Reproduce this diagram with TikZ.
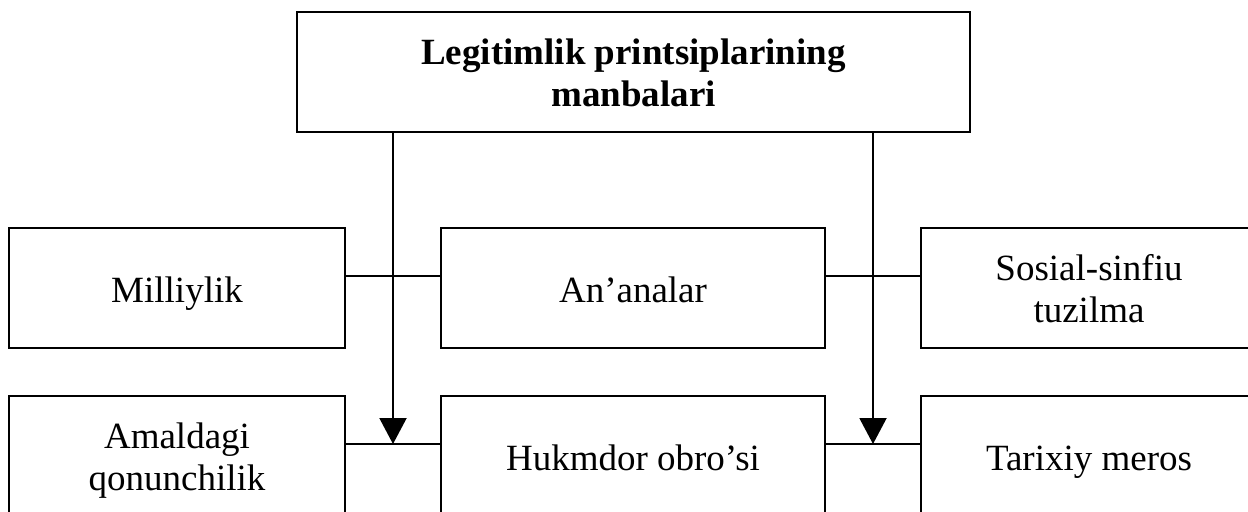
\documentclass[tikz,border=0pt]{standalone}
\usepackage{fontspec}
\setmainfont{Liberation Serif}
\usepackage{tikz}
\usetikzlibrary{calc, arrows.meta, positioning}

\begin{document}
\begin{tikzpicture}[x=0.5pt, y=-0.5pt,
    srcbox/.style={draw, line width=1.2pt, rectangle,
                   minimum width=168pt, minimum height=60pt, inner sep=2pt,
                   font=\fontsize{18.5}{21}\selectfont},
    oneline/.style={text height=17pt, text depth=3pt},
    twoline/.style={align=center, text height=37pt, text depth=3pt},
    link/.style={line width=0.8pt},
    down/.style={line width=1pt, -{Triangle[length=13pt, width=13.5pt]}}]
      %► Frame of the picture (pixel units)
      \useasboundingbox (0,0) rectangle (1248,511);
      \clip (0,0) rectangle (1248,511);

      %► Heading box
      \node[srcbox, twoline, minimum width=336.5pt, font=\fontsize{18.5}{21}\selectfont\bfseries]
            (head) at (633.5,72) {Legitimlik printsiplarining\\manbalari};

      %► First row
      \node[srcbox, oneline]                      (mill) at (177,288)  {Milliylik};
      \node[srcbox, oneline, minimum width=192pt] (anan) at (633,288)  {An’analar};
      \node[srcbox, twoline]                      (sots) at (1089,288) {Sosial-sinfiu\\tuzilma};

      %► Second row
      \node[srcbox, twoline]                      (amal) at (177,456)  {Amaldagi\\qonunchilik};
      \node[srcbox, oneline, minimum width=192pt] (hukm) at (633,456)  {Hukmdor obro’si};
      \node[srcbox, oneline]                      (tarx) at (1089,456) {Tarixiy meros};

      %► Horizontal links between neighbours
      \draw[link] ([yshift=6pt]mill.east) -- ([yshift=6pt]anan.west);
      \draw[link] ([yshift=6pt]anan.east) -- ([yshift=6pt]sots.west);
      \draw[link] ([yshift=6pt]amal.east) -- ([yshift=6pt]hukm.west);
      \draw[link] ([yshift=6pt]hukm.east) -- ([yshift=6pt]tarx.west);

      %► Arrow tips sit on the lower links, midway in the gaps
      \coordinate (tipL) at ($([yshift=6pt]amal.east)!0.5!([yshift=6pt]hukm.west)$);
      \coordinate (tipR) at ($([yshift=6pt]hukm.east)!0.5!([yshift=6pt]tarx.west)$);

      %► Arrows down from the heading
      \draw[down] (head.south -| tipL) -- (tipL);
      \draw[down] (head.south -| tipR) -- (tipR);
    \end{tikzpicture}
\end{document}
